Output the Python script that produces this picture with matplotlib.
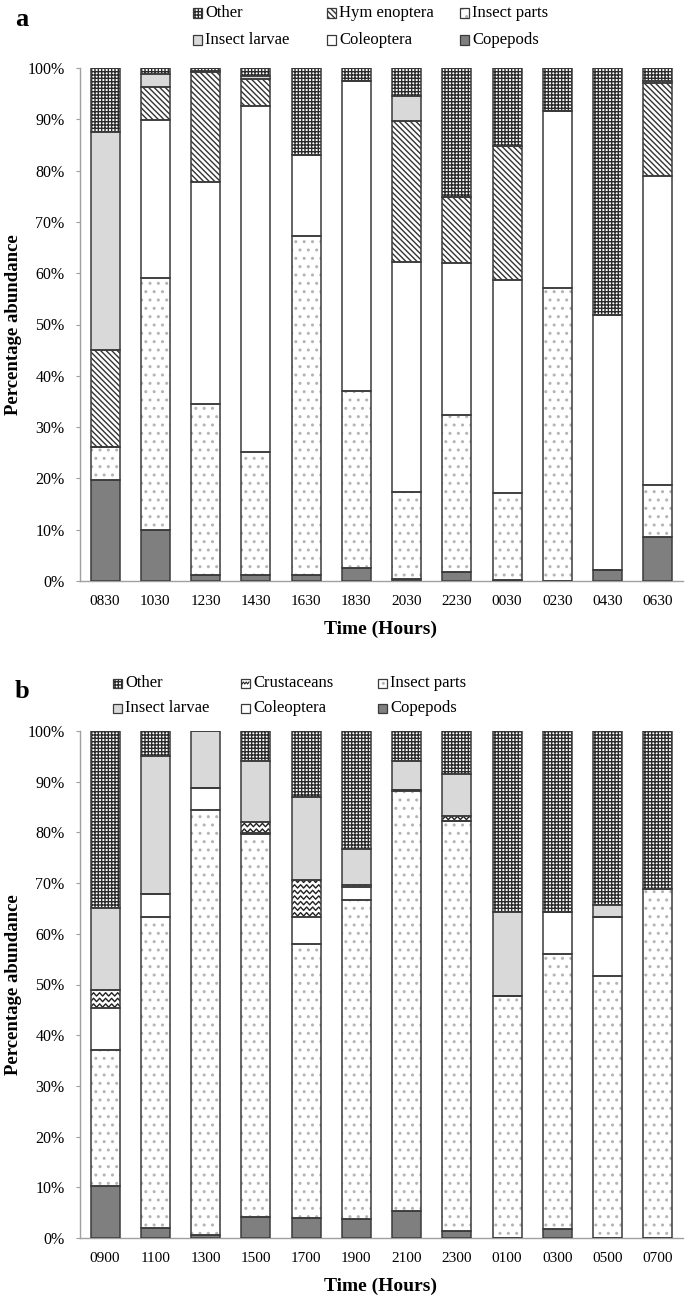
import matplotlib
matplotlib.use('Agg')
import matplotlib.pyplot as plt
import numpy as np
from matplotlib.patches import Rectangle

plt.rcParams.update({'font.family': 'Liberation Serif', 'font.size': 11,
                     'hatch.linewidth': 1.0})

# ---- panel a data (percent of each bar, bottom to top) ----
times_a = ['0830', '1030', '1230', '1430', '1630', '1830',
           '2030', '2230', '0030', '0230', '0430', '0630']
copepods_a = [19.7, 10.0, 1.1, 1.1, 1.1, 2.6, 0.4, 1.7, 0.2, 0.0, 2.1, 8.5]
insect_parts_a = [6.4, 49.1, 33.4, 24.1, 66.1, 34.5, 17.0, 30.6, 17.0, 57.1, 0.0, 10.2]
coleoptera_a = [0.0, 30.7, 43.3, 67.4, 15.8, 60.3, 44.7, 29.6, 41.5, 34.6, 49.8, 60.2]
hymenoptera_a = [18.9, 6.4, 21.5, 5.2, 0.0, 0.0, 27.5, 13.0, 26.0, 0.0, 0.0, 18.2]
larvae_a = [42.5, 2.6, 0.2, 0.6, 0.0, 0.0, 4.9, 0.0, 0.0, 0.0, 0.0, 0.3]
other_a = [12.5, 1.2, 0.5, 1.6, 17.0, 2.6, 5.5, 25.1, 15.3, 8.3, 48.1, 2.6]

# ---- panel b data ----
times_b = ['0900', '1100', '1300', '1500', '1700', '1900',
           '2100', '2300', '0100', '0300', '0500', '0700']
copepods_b = [10.3, 2.0, 0.5, 4.2, 3.9, 3.7, 5.3, 1.4, 0.0, 1.7, 0.0, 0.0]
insect_parts_b = [26.8, 61.3, 84.0, 75.4, 54.0, 63.0, 82.8, 80.9, 47.7, 54.3, 51.7, 68.8]
coleoptera_b = [8.2, 4.5, 4.3, 0.2, 5.4, 2.6, 0.2, 0.0, 0.0, 8.3, 11.6, 0.0]
crustaceans_b = [3.7, 0.0, 0.0, 2.2, 7.4, 0.3, 0.0, 1.0, 0.0, 0.0, 0.0, 0.0]
larvae_b = [16.0, 27.2, 11.2, 12.0, 16.2, 7.1, 5.7, 8.3, 16.6, 0.0, 2.4, 0.0]
other_b = [35.0, 5.0, 0.0, 6.0, 13.1, 23.3, 6.0, 8.4, 35.7, 35.7, 34.3, 31.2]

W, H = 685, 1297
fig = plt.figure(figsize=(W / 100, H / 100), dpi=100)

EDGE = '#3a3a3a'
styles = {
    'Copepods': dict(facecolor='#7f7f7f'),
    'Insect parts': dict(facecolor='white', hatch='..', hatch_color='#b4b4b4'),
    'Coleoptera': dict(facecolor='white'),
    'Hymenoptera': dict(facecolor='white', hatch='\\\\\\\\\\\\', hatch_color='#333333'),
    'Crustaceans': dict(facecolor='white', zigzag=True),
    'Insect larvae': dict(facecolor='#d9d9d9'),
    'Other': dict(facecolor='white', hatch='+++++', hatch_color='#2a2a2a'),
}


def zigzag(ax, patch, dx, dy):
    # zigzag fill, clipped to one bar segment
    x0, y0 = patch.get_x(), patch.get_y()
    w, h = patch.get_width(), patch.get_height()
    xs = np.arange(x0 - dx, x0 + w + dx, dx / 2)
    for yy in np.arange(y0 + dy * 0.5, y0 + h + dy, dy):
        ys = yy + np.where(np.arange(len(xs)) % 2 == 0, -dy * 0.3, dy * 0.3)
        ln, = ax.plot(xs, ys, color='#222222', lw=1.0, zorder=2.5)
        ln.set_clip_path(patch)


def stacked(ax, times, series):
    x = np.arange(len(times))
    bottom = np.zeros(len(times))
    width = 0.58
    for name, vals in series:
        st = styles[name]
        vals = np.array(vals)
        ec = st.get('hatch_color', EDGE)
        bars = ax.bar(x, vals, width, bottom=bottom, color=st['facecolor'],
                      hatch=st.get('hatch'), edgecolor=ec, linewidth=0, zorder=2)
        ax.bar(x, vals, width, bottom=bottom, facecolor='none',
               edgecolor=EDGE, linewidth=1.1, zorder=3)
        if st.get('zigzag'):
            for b, v in zip(bars, vals):
                if v > 0:
                    zigzag(ax, b, 0.12, 1.1)
        bottom = bottom + vals
    ax.set_xlim(-0.5, len(times) - 0.5)
    ax.set_ylim(0, 100)
    ax.set_xticks(x)
    ax.set_xticklabels(times)
    ax.set_yticks(np.arange(0, 101, 10))
    ax.set_yticklabels(['%d%%' % v for v in range(0, 101, 10)])
    for s in ['top', 'right']:
        ax.spines[s].set_visible(False)
    for s in ['left', 'bottom']:
        ax.spines[s].set_color('#a0a0a0')
        ax.spines[s].set_linewidth(1.0)
    ax.tick_params(axis='y', length=3, color='#a0a0a0', pad=8, labelsize=11.5)
    ax.tick_params(axis='x', length=0, pad=10, labelsize=11)


def legend_item(x, y, name, label):
    st = styles[name]
    r = Rectangle((x / W, 1 - (y + 4.5) / H), 9 / W, 9 / H, transform=fig.transFigure,
                  facecolor=st['facecolor'], hatch=st.get('hatch'),
                  edgecolor=st.get('hatch_color', EDGE), linewidth=0)
    fig.patches.append(r)
    fig.patches.append(Rectangle((x / W, 1 - (y + 4.5) / H), 9 / W, 9 / H,
                                 transform=fig.transFigure, facecolor='none',
                                 edgecolor=EDGE, linewidth=0.9))
    if st.get('zigzag'):
        zx = np.linspace(x + 1, x + 8, 6) / W
        zy = 1 - (y + np.array([0, -2, 0, -2, 0, -2]) + 1) / H
        fig.lines.append(plt.Line2D(zx, zy, transform=fig.transFigure, color='#222222', lw=0.8))
    fig.text((x + 12) / W, 1 - y / H, label, va='center', ha='left', fontsize=12)


# panel a
ax_a = fig.add_axes([80 / W, 1 - 581 / H, 603 / W, 513 / H])
stacked(ax_a, times_a, [('Copepods', copepods_a), ('Insect parts', insect_parts_a),
                        ('Coleoptera', coleoptera_a), ('Hymenoptera', hymenoptera_a),
                        ('Insect larvae', larvae_a), ('Other', other_a)])

# panel b
ax_b = fig.add_axes([80 / W, 1 - 1238 / H, 603 / W, 507 / H])
stacked(ax_b, times_b, [('Copepods', copepods_b), ('Insect parts', insect_parts_b),
                        ('Coleoptera', coleoptera_b), ('Crustaceans', crustaceans_b),
                        ('Insect larvae', larvae_b), ('Other', other_b)])

# legends
for (cols, rows, mid) in [((193, 327, 460), (13, 40), 'Hymenoptera'),
                          ((113, 241, 378), (683, 708), 'Crustaceans')]:
    legend_item(cols[0], rows[0], 'Other', 'Other')
    legend_item(cols[1], rows[0], mid, 'Hym enoptera' if mid == 'Hymenoptera' else mid)
    legend_item(cols[2], rows[0], 'Insect parts', 'Insect parts')
    legend_item(cols[0], rows[1], 'Insect larvae', 'Insect larvae')
    legend_item(cols[1], rows[1], 'Coleoptera', 'Coleoptera')
    legend_item(cols[2], rows[1], 'Copepods', 'Copepods')

# axis titles and panel letters
for top, bot, letter, ly in [(68, 581, 'a', 20), (731, 1238, 'b', 692)]:
    fig.text(14 / W, 1 - (top + bot) / 2 / H, 'Percentage abundance', rotation=90,
             va='center', ha='center', fontsize=13.5, fontweight='bold')
    fig.text(381 / W, 1 - (bot + 48) / H, 'Time (Hours)', va='center', ha='center',
             fontsize=14, fontweight='bold')
    fig.text(22 / W, 1 - ly / H, letter, va='center', ha='center',
             fontsize=19, fontweight='bold')

fig.savefig('out.png', dpi=100)
